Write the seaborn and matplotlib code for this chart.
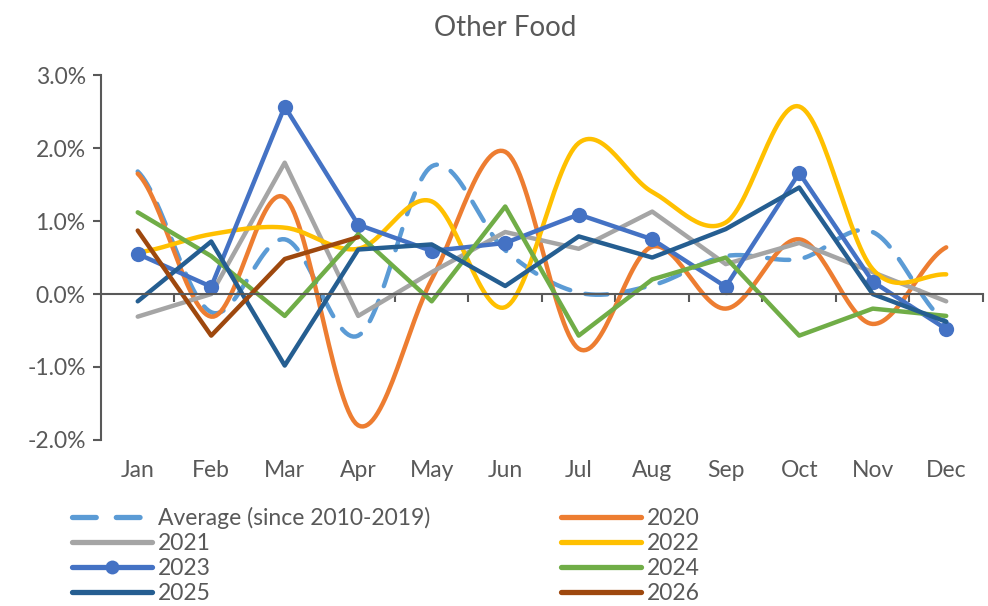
import numpy as np
import pandas as pd
import seaborn as sns
import matplotlib
matplotlib.use("Agg")
import matplotlib.pyplot as plt
from matplotlib.lines import Line2D

months = ["Jan", "Feb", "Mar", "Apr", "May", "Jun", "Jul", "Aug", "Sep", "Oct", "Nov", "Dec"]

avg_2010_2019 = [1.68, -0.25, 0.75, -0.57, 1.75, 0.60, 0.02, 0.12, 0.52, 0.48, 0.85, -0.38]
y2020 = [1.65, -0.31, 1.32, -1.80, 0.20, 1.95, -0.75, 0.65, -0.20, 0.75, -0.41, 0.64]
y2021 = [-0.31, 0.00, 1.80, -0.30, 0.30, 0.85, 0.62, 1.13, 0.41, 0.70, 0.30, -0.10]
y2022 = [0.57, 0.82, 0.91, 0.62, 1.27, -0.18, 2.07, 1.40, 0.98, 2.57, 0.34, 0.27]
y2023 = [0.55, 0.10, 2.57, 0.95, 0.59, 0.70, 1.09, 0.75, 0.10, 1.66, 0.17, -0.48]
y2024 = [1.12, 0.52, -0.30, 0.82, -0.10, 1.20, -0.57, 0.20, 0.50, -0.57, -0.20, -0.30]
y2025 = [-0.10, 0.72, -0.98, 0.61, 0.68, 0.11, 0.79, 0.50, 0.89, 1.46, 0.00, -0.38]
y2026 = [0.87, -0.57, 0.48, 0.78]

yticks = [-2, -1, 0, 1, 2, 3]

TXT = "#595959"
sns.set_theme(style="white")
plt.rcParams["font.family"] = ["Lato", "DejaVu Sans"]


def smooth(vals, steps=30):
    """Catmull-Rom style smoothing (like Excel's smoothed line) for drawing."""
    v = np.asarray(vals, dtype=float)
    n = len(v)
    xs, ys = [], []
    for i in range(n - 1):
        p0 = v[i - 1] if i > 0 else v[i]
        p1, p2 = v[i], v[i + 1]
        p3 = v[i + 2] if i + 2 < n else v[i + 1]
        m1 = (p2 - p0) / 2.0
        m2 = (p3 - p1) / 2.0
        t = np.linspace(0, 1, steps, endpoint=(i == n - 2))
        h00 = 2 * t**3 - 3 * t**2 + 1
        h10 = t**3 - 2 * t**2 + t
        h01 = -2 * t**3 + 3 * t**2
        h11 = t**3 - t**2
        ys.append(h00 * p1 + h10 * m1 + h01 * p2 + h11 * m2)
        xs.append(i + 1 + t)
    return np.concatenate(xs), np.concatenate(ys)


fig = plt.figure(figsize=(9.88, 6.06), dpi=100)
ax = fig.add_axes([0.1022, 0.274, 0.8927, 0.602])

LW = 3.2
series = [
    ("Average (since 2010-2019)", avg_2010_2019, "#5B9BD5", True, (0, (5, 3.5)), None),
    ("2020", y2020, "#ED7D31", True, "-", None),
    ("2021", y2021, "#A5A5A5", False, "-", None),
    ("2022", y2022, "#FFC000", True, "-", None),
    ("2023", y2023, "#4472C4", False, "-", "o"),
    ("2024", y2024, "#70AD47", False, "-", None),
    ("2025", y2025, "#255E91", False, "-", None),
    ("2026", y2026, "#9E480E", False, "-", None),
]

handles = {}
for label, vals, color, is_smooth, ls, marker in series:
    if is_smooth:
        xs, ys = smooth(vals)
    else:
        xs = np.arange(1, len(vals) + 1)
        ys = np.asarray(vals, dtype=float)
    df = pd.DataFrame({"x": xs, "y": ys})
    sns.lineplot(data=df, x="x", y="y", ax=ax, color=color, linewidth=LW,
                 sort=False, estimator=None, marker=marker,
                 markersize=11 if marker else None,
                 markeredgewidth=0, solid_capstyle="round", dash_capstyle="round")
    ax.lines[-1].set_linestyle(ls)
    handles[label] = Line2D([0], [0], color=color, linewidth=LW + 0.6,
                            linestyle=(0, (4.5, 3.8)) if label.startswith("Average") else ls,
                            marker=marker, markersize=10 if marker else 0,
                            markeredgewidth=0, solid_capstyle="round", dash_capstyle="round")

ax.set_xlim(0.5, 12.5)
ax.set_ylim(-2, 3)
ax.set_xlabel("")
ax.set_ylabel("")

ax.set_yticks(yticks)
ax.set_yticklabels([f"{t:.1f}%" for t in yticks])
ax.tick_params(axis="y", which="major", direction="out", length=6, width=1.5,
               color=TXT, labelsize=16.5, labelcolor=TXT, pad=5, left=True)

ax.set_xticks(np.arange(1.5, 12.6, 1.0))
ax.set_xticklabels([])
ax.tick_params(axis="x", which="major", direction="out", length=6, width=1.5,
               color=TXT, bottom=True)

for s in ["top", "right"]:
    ax.spines[s].set_visible(False)
ax.spines["bottom"].set_position(("data", 0))
ax.spines["left"].set_color(TXT)
ax.spines["bottom"].set_color(TXT)
ax.spines["left"].set_linewidth(1.5)
ax.spines["bottom"].set_linewidth(1.5)
ax.grid(False)

for i, m in enumerate(months):
    ax.text(i + 1, -0.085, m, transform=ax.get_xaxis_transform(), ha="center",
            va="center", fontsize=16.5, color=TXT)

fig.text(0.511, 1 - 28 / 606, "Other Food", ha="center", va="center",
         fontsize=20, color=TXT)

order = ["Average (since 2010-2019)", "2021", "2023", "2025",
         "2020", "2022", "2024", "2026"]
leg = fig.legend([handles[k] for k in order], order, ncol=2,
                 loc="upper left", bbox_to_anchor=(0.0729, 0.163),
                 frameon=False, fontsize=16.5, handlelength=3.5,
                 handletextpad=0.26, labelspacing=0.17, columnspacing=5.7,
                 borderpad=0, borderaxespad=0)
for t in leg.get_texts():
    t.set_color(TXT)

fig.savefig("out.png", dpi=100)
